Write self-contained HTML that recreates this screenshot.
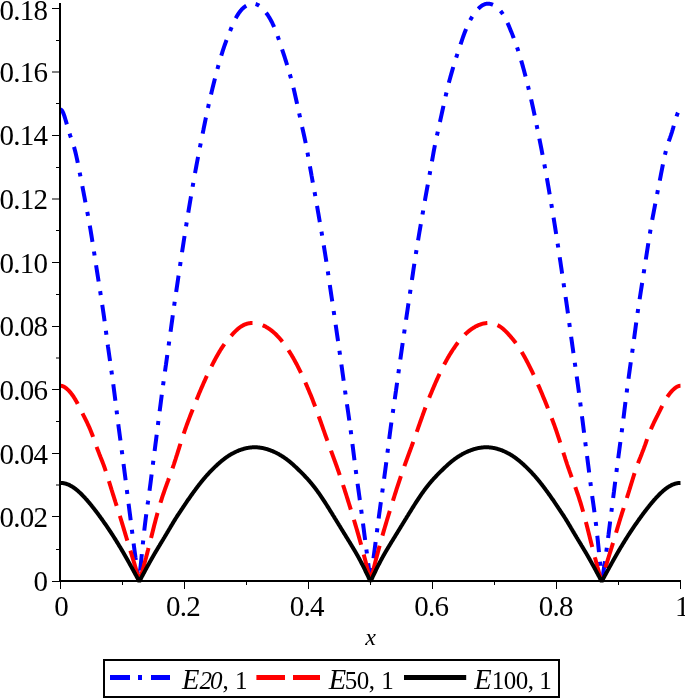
<!DOCTYPE html>
<html><head><meta charset="utf-8"><style>
html,body{margin:0;padding:0;background:#fff;}
body{width:685px;height:698px;overflow:hidden;}
svg{display:block;font-family:"Liberation Serif",serif;}
.lab{font-size:29px;letter-spacing:-0.75px;}
.lg{font-size:25px;letter-spacing:-0.5px;}
</style></head><body>
<svg width="685" height="698" viewBox="0 0 685 698">
<rect x="0" y="0" width="685" height="698" fill="#fff"/>
<path d="M60.50,109.60 61.00,109.72 61.50,110.07 62.00,110.64 62.50,111.44 63.00,112.44 63.50,113.63 64.00,114.97 64.50,116.45 65.00,118.03 65.50,119.70 66.00,121.42 66.50,123.17 67.00,124.93 67.50,126.68 68.00,128.42 68.50,130.12 69.00,131.79 69.50,133.40 70.00,134.94 70.50,136.42 71.00,137.85 71.50,139.27 72.00,140.68 72.50,142.12 73.00,143.62 73.50,145.19 74.00,146.86 74.50,148.64 75.00,150.54 75.50,152.54 76.00,154.65 76.50,156.85 77.00,159.14 77.50,161.52 78.00,163.98 78.50,166.50 79.00,169.07 79.50,171.65 80.00,174.23 80.50,176.79 81.00,179.33 81.50,181.87 82.00,184.42 82.50,186.98 83.00,189.58 83.50,192.19 84.00,194.81 84.50,197.43 85.00,200.04 85.50,202.64 86.00,205.23 86.50,207.81 87.00,210.40 87.50,213.01 88.00,215.66 88.50,218.35 89.00,221.10 89.50,223.92 90.00,226.81 90.50,229.78 91.00,232.82 91.50,235.91 92.00,239.04 92.50,242.19 93.00,245.35 93.50,248.53 94.00,251.74 94.50,254.96 95.00,258.21 95.50,261.47 96.00,264.71 96.50,267.94 97.00,271.15 97.50,274.34 98.00,277.53 98.50,280.71 99.00,283.89 99.50,287.07 100.00,290.27 100.50,293.48 101.00,296.70 101.50,299.96 102.00,303.25 102.50,306.58 103.00,309.96 103.50,313.40 104.00,316.90 104.50,320.49 105.00,324.16 105.50,327.90 106.00,331.69 106.50,335.51 107.00,339.33 107.50,343.06 108.00,346.69 108.50,350.22 109.00,353.71 109.50,357.17 110.00,360.65 110.50,364.18 111.00,367.75 111.50,371.36 112.00,374.99 112.50,378.65 113.00,382.36 113.50,386.11 114.00,389.92 114.50,393.78 115.00,397.71 115.50,401.70 116.00,405.74 116.50,409.81 117.00,413.90 117.50,417.97 118.00,421.99 118.50,425.91 119.00,429.74 119.50,433.52 120.00,437.26 120.50,440.99 121.00,444.73 121.50,448.49 122.00,452.27 122.50,456.07 123.00,459.88 123.50,463.71 124.00,467.55 124.50,471.41 125.00,475.30 125.50,479.23 126.00,483.22 126.50,487.24 127.00,491.26 127.50,495.24 128.00,499.20 128.50,503.13 129.00,507.04 129.50,510.94 130.00,514.85 130.50,518.78 131.00,522.76 131.50,526.78 132.00,530.81 132.50,534.80 133.00,538.75 133.50,542.65 134.00,546.49 134.50,550.27 135.00,553.96 135.50,557.56 136.00,561.04 136.50,564.46 137.00,567.87 137.50,571.31 138.00,574.86 138.50,578.57 138.88,581.50 139.00,580.50 139.50,576.31 140.00,571.85 140.50,567.18 141.00,562.36 141.50,557.42 142.00,552.43 142.50,547.44 143.00,542.50 143.50,537.67 144.00,532.99 144.50,528.52 145.00,524.25 145.50,520.17 146.00,516.26 146.50,512.51 147.00,508.87 147.50,505.30 148.00,501.75 148.50,498.19 149.00,494.56 149.50,490.87 150.00,487.06 150.50,483.17 151.00,479.22 151.50,475.25 152.00,471.28 152.50,467.34 153.00,463.44 153.50,459.59 154.00,455.76 154.50,451.91 155.00,448.02 155.50,444.09 156.00,440.13 156.50,436.16 157.00,432.19 157.50,428.24 158.00,424.29 158.50,420.36 159.00,416.44 159.50,412.52 160.00,408.59 160.50,404.67 161.00,400.76 161.50,396.89 162.00,393.06 162.50,389.30 163.00,385.60 163.50,381.97 164.00,378.40 164.50,374.86 165.00,371.33 165.50,367.80 166.00,364.25 166.50,360.69 167.00,357.12 167.50,353.57 168.00,350.01 168.50,346.46 169.00,342.90 169.50,339.32 170.00,335.73 170.50,332.11 171.00,328.46 171.50,324.79 172.00,321.11 172.50,317.45 173.00,313.81 173.50,310.20 174.00,306.65 174.50,303.16 175.00,299.72 175.50,296.33 176.00,292.96 176.50,289.59 177.00,286.22 177.50,282.84 178.00,279.47 178.50,276.08 179.00,272.70 179.50,269.31 180.00,265.93 180.50,262.55 181.00,259.18 181.50,255.82 182.00,252.50 182.50,249.20 183.00,245.94 183.50,242.70 184.00,239.48 184.50,236.26 185.00,233.05 185.50,229.85 186.00,226.67 186.50,223.52 187.00,220.39 187.50,217.30 188.00,214.23 188.50,211.19 189.00,208.17 189.50,205.17 190.00,202.19 190.50,199.22 191.00,196.26 191.50,193.32 192.00,190.38 192.50,187.46 193.00,184.56 193.50,181.68 194.00,178.84 194.50,176.02 195.00,173.25 195.50,170.51 196.00,167.81 196.50,165.15 197.00,162.50 197.50,159.87 198.00,157.25 198.50,154.64 199.00,152.03 199.50,149.44 200.00,146.88 200.50,144.35 201.00,141.85 201.50,139.37 202.00,136.90 202.50,134.44 203.00,131.96 203.50,129.48 204.00,126.98 204.50,124.49 205.00,122.02 205.50,119.56 206.00,117.13 206.50,114.74 207.00,112.37 207.50,110.04 208.00,107.75 208.50,105.48 209.00,103.25 209.50,101.04 210.00,98.86 210.50,96.70 211.00,94.56 211.50,92.44 212.00,90.35 212.50,88.27 213.00,86.22 213.50,84.18 214.00,82.17 214.50,80.18 215.00,78.21 215.50,76.27 216.00,74.35 216.50,72.45 217.00,70.58 217.50,68.73 218.00,66.91 218.50,65.11 219.00,63.33 219.50,61.58 220.00,59.86 220.50,58.17 221.00,56.51 221.50,54.87 222.00,53.27 222.50,51.70 223.00,50.16 223.50,48.65 224.00,47.16 224.50,45.70 225.00,44.27 225.50,42.86 226.00,41.48 226.50,40.11 227.00,38.78 227.50,37.46 228.00,36.16 228.50,34.88 229.00,33.62 229.50,32.37 230.00,31.14 230.50,29.91 231.00,28.70 231.50,27.50 232.00,26.32 232.50,25.15 233.00,24.00 233.50,22.88 234.00,21.79 234.50,20.72 235.00,19.69 235.50,18.70 236.00,17.75 236.50,16.84 237.00,15.97 237.50,15.14 238.00,14.34 238.50,13.58 239.00,12.86 239.50,12.17 240.00,11.51 240.50,10.89 241.00,10.30 241.50,9.74 242.00,9.21 242.50,8.71 243.00,8.24 243.50,7.79 244.00,7.37 244.50,6.98 245.00,6.61 245.50,6.26 246.00,5.94 246.50,5.64 247.00,5.36 247.50,5.10 248.00,4.86 248.50,4.64 249.00,4.44 249.50,4.27 250.00,4.12 250.50,3.99 251.00,3.88 251.50,3.80 252.00,3.74 252.50,3.70 253.00,3.69 253.50,3.71 254.00,3.75 254.50,3.81 255.00,3.90 255.50,4.02 256.00,4.17 256.50,4.34 257.00,4.54 257.50,4.77 258.00,5.02 258.50,5.31 259.00,5.62 259.50,5.96 260.00,6.33 260.50,6.72 261.00,7.13 261.50,7.58 262.00,8.04 262.50,8.54 263.00,9.05 263.50,9.59 264.00,10.15 264.50,10.74 265.00,11.34 265.50,11.97 266.00,12.62 266.50,13.29 267.00,13.99 267.50,14.71 268.00,15.45 268.50,16.22 269.00,17.02 269.50,17.84 270.00,18.70 270.50,19.59 271.00,20.51 271.50,21.46 272.00,22.45 272.50,23.48 273.00,24.54 273.50,25.65 274.00,26.79 274.50,27.97 275.00,29.19 275.50,30.45 276.00,31.74 276.50,33.06 277.00,34.41 277.50,35.79 278.00,37.19 278.50,38.62 279.00,40.07 279.50,41.54 280.00,43.03 280.50,44.53 281.00,46.03 281.50,47.55 282.00,49.07 282.50,50.58 283.00,52.10 283.50,53.63 284.00,55.16 284.50,56.70 285.00,58.25 285.50,59.81 286.00,61.40 286.50,63.00 287.00,64.62 287.50,66.26 288.00,67.93 288.50,69.63 289.00,71.34 289.50,73.08 290.00,74.84 290.50,76.62 291.00,78.42 291.50,80.26 292.00,82.13 292.50,84.05 293.00,86.02 293.50,88.06 294.00,90.15 294.50,92.31 295.00,94.51 295.50,96.74 296.00,98.99 296.50,101.25 297.00,103.51 297.50,105.77 298.00,108.02 298.50,110.27 299.00,112.53 299.50,114.81 300.00,117.11 300.50,119.43 301.00,121.75 301.50,124.06 302.00,126.34 302.50,128.58 303.00,130.79 303.50,133.00 304.00,135.23 304.50,137.49 305.00,139.81 305.50,142.21 306.00,144.70 306.50,147.30 307.00,149.98 307.50,152.72 308.00,155.50 308.50,158.30 309.00,161.12 309.50,163.95 310.00,166.78 310.50,169.61 311.00,172.42 311.50,175.23 312.00,178.01 312.50,180.78 313.00,183.52 313.50,186.23 314.00,188.94 314.50,191.67 315.00,194.41 315.50,197.20 316.00,200.02 316.50,202.87 317.00,205.75 317.50,208.64 318.00,211.54 318.50,214.45 319.00,217.35 319.50,220.24 320.00,223.12 320.50,225.99 321.00,228.87 321.50,231.78 322.00,234.72 322.50,237.71 323.00,240.74 323.50,243.79 324.00,246.86 324.50,249.95 325.00,253.06 325.50,256.21 326.00,259.41 326.50,262.66 327.00,265.96 327.50,269.32 328.00,272.71 328.50,276.12 329.00,279.55 329.50,282.97 330.00,286.37 330.50,289.74 331.00,293.10 331.50,296.45 332.00,299.80 332.50,303.16 333.00,306.54 333.50,309.93 334.00,313.33 334.50,316.76 335.00,320.19 335.50,323.62 336.00,327.06 336.50,330.49 337.00,333.93 337.50,337.37 338.00,340.82 338.50,344.27 339.00,347.74 339.50,351.21 340.00,354.69 340.50,358.17 341.00,361.68 341.50,365.22 342.00,368.79 342.50,372.40 343.00,376.03 343.50,379.67 344.00,383.30 344.50,386.92 345.00,390.51 345.50,394.06 346.00,397.56 346.50,401.03 347.00,404.46 347.50,407.86 348.00,411.27 348.50,414.69 349.00,418.17 349.50,421.71 350.00,425.33 350.50,429.03 351.00,432.80 351.50,436.62 352.00,440.51 352.50,444.45 353.00,448.46 353.50,452.49 354.00,456.53 354.50,460.51 355.00,464.43 355.50,468.29 356.00,472.08 356.50,475.82 357.00,479.51 357.50,483.16 358.00,486.79 358.50,490.39 359.00,493.99 359.50,497.58 360.00,501.18 360.50,504.79 361.00,508.43 361.50,512.11 362.00,515.86 362.50,519.66 363.00,523.50 363.50,527.37 364.00,531.26 364.50,535.15 365.00,539.03 365.50,542.88 366.00,546.71 366.50,550.50 367.00,554.25 367.50,557.98 368.00,561.74 368.50,565.55 369.00,569.46 369.50,573.43 370.00,577.45 370.50,581.50 371.00,577.45 371.50,573.43 372.00,569.46 372.50,565.55 373.00,561.74 373.50,557.98 374.00,554.25 374.50,550.50 375.00,546.71 375.50,542.88 376.00,539.03 376.50,535.15 377.00,531.26 377.50,527.37 378.00,523.50 378.50,519.66 379.00,515.86 379.50,512.11 380.00,508.43 380.50,504.79 381.00,501.18 381.50,497.58 382.00,493.99 382.50,490.39 383.00,486.79 383.50,483.16 384.00,479.51 384.50,475.82 385.00,472.08 385.50,468.29 386.00,464.43 386.50,460.51 387.00,456.53 387.50,452.49 388.00,448.46 388.50,444.45 389.00,440.51 389.50,436.62 390.00,432.80 390.50,429.03 391.00,425.33 391.50,421.71 392.00,418.17 392.50,414.69 393.00,411.27 393.50,407.86 394.00,404.46 394.50,401.03 395.00,397.56 395.50,394.06 396.00,390.51 396.50,386.92 397.00,383.30 397.50,379.67 398.00,376.03 398.50,372.40 399.00,368.79 399.50,365.22 400.00,361.68 400.50,358.17 401.00,354.69 401.50,351.21 402.00,347.74 402.50,344.27 403.00,340.82 403.50,337.37 404.00,333.93 404.50,330.49 405.00,327.06 405.50,323.62 406.00,320.19 406.50,316.76 407.00,313.33 407.50,309.93 408.00,306.54 408.50,303.16 409.00,299.80 409.50,296.45 410.00,293.10 410.50,289.74 411.00,286.37 411.50,282.97 412.00,279.55 412.50,276.12 413.00,272.71 413.50,269.32 414.00,265.96 414.50,262.66 415.00,259.41 415.50,256.21 416.00,253.06 416.50,249.95 417.00,246.86 417.50,243.79 418.00,240.74 418.50,237.71 419.00,234.72 419.50,231.78 420.00,228.87 420.50,225.99 421.00,223.12 421.50,220.24 422.00,217.35 422.50,214.45 423.00,211.54 423.50,208.64 424.00,205.75 424.50,202.87 425.00,200.02 425.50,197.20 426.00,194.41 426.50,191.67 427.00,188.94 427.50,186.23 428.00,183.52 428.50,180.78 429.00,178.01 429.50,175.23 430.00,172.42 430.50,169.61 431.00,166.78 431.50,163.95 432.00,161.12 432.50,158.30 433.00,155.50 433.50,152.72 434.00,149.98 434.50,147.30 435.00,144.70 435.50,142.21 436.00,139.81 436.50,137.49 437.00,135.23 437.50,133.00 438.00,130.79 438.50,128.58 439.00,126.34 439.50,124.06 440.00,121.75 440.50,119.43 441.00,117.11 441.50,114.81 442.00,112.53 442.50,110.27 443.00,108.02 443.50,105.77 444.00,103.51 444.50,101.25 445.00,98.99 445.50,96.74 446.00,94.51 446.50,92.31 447.00,90.15 447.50,88.06 448.00,86.02 448.50,84.05 449.00,82.13 449.50,80.26 450.00,78.42 450.50,76.62 451.00,74.84 451.50,73.08 452.00,71.34 452.50,69.63 453.00,67.93 453.50,66.26 454.00,64.62 454.50,63.00 455.00,61.40 455.50,59.81 456.00,58.25 456.50,56.70 457.00,55.16 457.50,53.63 458.00,52.10 458.50,50.58 459.00,49.07 459.50,47.55 460.00,46.03 460.50,44.53 461.00,43.03 461.50,41.54 462.00,40.07 462.50,38.62 463.00,37.19 463.50,35.79 464.00,34.41 464.50,33.06 465.00,31.74 465.50,30.45 466.00,29.19 466.50,27.97 467.00,26.79 467.50,25.65 468.00,24.54 468.50,23.48 469.00,22.45 469.50,21.46 470.00,20.51 470.50,19.59 471.00,18.70 471.50,17.84 472.00,17.02 472.50,16.22 473.00,15.45 473.50,14.71 474.00,13.99 474.50,13.29 475.00,12.62 475.50,11.97 476.00,11.34 476.50,10.74 477.00,10.15 477.50,9.59 478.00,9.05 478.50,8.54 479.00,8.04 479.50,7.58 480.00,7.13 480.50,6.72 481.00,6.33 481.50,5.96 482.00,5.62 482.50,5.31 483.00,5.02 483.50,4.77 484.00,4.54 484.50,4.34 485.00,4.17 485.50,4.02 486.00,3.90 486.50,3.81 487.00,3.75 487.50,3.71 488.00,3.69 488.50,3.70 489.00,3.74 489.50,3.80 490.00,3.88 490.50,3.99 491.00,4.12 491.50,4.27 492.00,4.44 492.50,4.64 493.00,4.86 493.50,5.10 494.00,5.36 494.50,5.64 495.00,5.94 495.50,6.26 496.00,6.61 496.50,6.98 497.00,7.37 497.50,7.79 498.00,8.24 498.50,8.71 499.00,9.21 499.50,9.74 500.00,10.30 500.50,10.89 501.00,11.51 501.50,12.17 502.00,12.86 502.50,13.58 503.00,14.34 503.50,15.14 504.00,15.97 504.50,16.84 505.00,17.75 505.50,18.70 506.00,19.69 506.50,20.72 507.00,21.79 507.50,22.88 508.00,24.00 508.50,25.15 509.00,26.32 509.50,27.50 510.00,28.70 510.50,29.91 511.00,31.14 511.50,32.37 512.00,33.62 512.50,34.88 513.00,36.16 513.50,37.46 514.00,38.78 514.50,40.11 515.00,41.48 515.50,42.86 516.00,44.27 516.50,45.70 517.00,47.16 517.50,48.65 518.00,50.16 518.50,51.70 519.00,53.27 519.50,54.87 520.00,56.51 520.50,58.17 521.00,59.86 521.50,61.58 522.00,63.33 522.50,65.11 523.00,66.91 523.50,68.73 524.00,70.58 524.50,72.45 525.00,74.35 525.50,76.27 526.00,78.21 526.50,80.18 527.00,82.17 527.50,84.18 528.00,86.22 528.50,88.27 529.00,90.35 529.50,92.44 530.00,94.56 530.50,96.70 531.00,98.86 531.50,101.04 532.00,103.25 532.50,105.48 533.00,107.75 533.50,110.04 534.00,112.37 534.50,114.74 535.00,117.13 535.50,119.56 536.00,122.02 536.50,124.49 537.00,126.98 537.50,129.48 538.00,131.96 538.50,134.44 539.00,136.90 539.50,139.37 540.00,141.85 540.50,144.35 541.00,146.88 541.50,149.44 542.00,152.03 542.50,154.64 543.00,157.25 543.50,159.87 544.00,162.50 544.50,165.15 545.00,167.81 545.50,170.51 546.00,173.25 546.50,176.02 547.00,178.84 547.50,181.68 548.00,184.56 548.50,187.46 549.00,190.38 549.50,193.32 550.00,196.26 550.50,199.22 551.00,202.19 551.50,205.17 552.00,208.17 552.50,211.19 553.00,214.23 553.50,217.30 554.00,220.39 554.50,223.52 555.00,226.67 555.50,229.85 556.00,233.05 556.50,236.26 557.00,239.48 557.50,242.70 558.00,245.94 558.50,249.20 559.00,252.50 559.50,255.82 560.00,259.18 560.50,262.55 561.00,265.93 561.50,269.31 562.00,272.70 562.50,276.08 563.00,279.47 563.50,282.84 564.00,286.22 564.50,289.59 565.00,292.96 565.50,296.33 566.00,299.72 566.50,303.16 567.00,306.65 567.50,310.20 568.00,313.81 568.50,317.45 569.00,321.11 569.50,324.79 570.00,328.46 570.50,332.11 571.00,335.73 571.50,339.32 572.00,342.90 572.50,346.46 573.00,350.01 573.50,353.57 574.00,357.12 574.50,360.69 575.00,364.25 575.50,367.80 576.00,371.33 576.50,374.86 577.00,378.40 577.50,381.97 578.00,385.60 578.50,389.30 579.00,393.06 579.50,396.89 580.00,400.76 580.50,404.67 581.00,408.59 581.50,412.52 582.00,416.44 582.50,420.36 583.00,424.29 583.50,428.24 584.00,432.19 584.50,436.16 585.00,440.13 585.50,444.09 586.00,448.02 586.50,451.91 587.00,455.76 587.50,459.59 588.00,463.44 588.50,467.34 589.00,471.28 589.50,475.25 590.00,479.22 590.50,483.17 591.00,487.06 591.50,490.87 592.00,494.56 592.50,498.19 593.00,501.75 593.50,505.30 594.00,508.87 594.50,512.51 595.00,516.26 595.50,520.17 596.00,524.25 596.50,528.52 597.00,532.99 597.50,537.67 598.00,542.50 598.50,547.44 599.00,552.43 599.50,557.42 600.00,562.36 600.50,567.18 601.00,571.85 601.50,576.31 602.00,580.50 602.12,581.50 602.50,578.57 603.00,574.86 603.50,571.31 604.00,567.87 604.50,564.46 605.00,561.04 605.50,557.56 606.00,553.96 606.50,550.27 607.00,546.49 607.50,542.65 608.00,538.75 608.50,534.80 609.00,530.81 609.50,526.78 610.00,522.76 610.50,518.78 611.00,514.85 611.50,510.94 612.00,507.04 612.50,503.13 613.00,499.20 613.50,495.24 614.00,491.26 614.50,487.24 615.00,483.22 615.50,479.23 616.00,475.30 616.50,471.41 617.00,467.55 617.50,463.71 618.00,459.88 618.50,456.07 619.00,452.27 619.50,448.49 620.00,444.73 620.50,440.99 621.00,437.26 621.50,433.52 622.00,429.74 622.50,425.91 623.00,421.99 623.50,417.97 624.00,413.90 624.50,409.81 625.00,405.74 625.50,401.70 626.00,397.71 626.50,393.78 627.00,389.92 627.50,386.11 628.00,382.36 628.50,378.65 629.00,374.99 629.50,371.36 630.00,367.75 630.50,364.18 631.00,360.65 631.50,357.17 632.00,353.71 632.50,350.22 633.00,346.69 633.50,343.06 634.00,339.33 634.50,335.51 635.00,331.69 635.50,327.90 636.00,324.16 636.50,320.49 637.00,316.90 637.50,313.40 638.00,309.96 638.50,306.58 639.00,303.25 639.50,299.96 640.00,296.70 640.50,293.48 641.00,290.27 641.50,287.07 642.00,283.89 642.50,280.71 643.00,277.53 643.50,274.34 644.00,271.15 644.50,267.94 645.00,264.71 645.50,261.47 646.00,258.21 646.50,254.96 647.00,251.74 647.50,248.53 648.00,245.35 648.50,242.19 649.00,239.04 649.50,235.91 650.00,232.82 650.50,229.78 651.00,226.81 651.50,223.92 652.00,221.10 652.50,218.35 653.00,215.66 653.50,213.01 654.00,210.40 654.50,207.81 655.00,205.23 655.50,202.64 656.00,200.04 656.50,197.43 657.00,194.81 657.50,192.19 658.00,189.58 658.50,186.98 659.00,184.42 659.50,181.87 660.00,179.33 660.50,176.79 661.00,174.23 661.50,171.65 662.00,169.07 662.50,166.50 663.00,163.98 663.50,161.52 664.00,159.14 664.50,156.85 665.00,154.65 665.50,152.54 666.00,150.54 666.50,148.64 667.00,146.86 667.50,145.19 668.00,143.62 668.50,142.12 669.00,140.68 669.50,139.27 670.00,137.85 670.50,136.42 671.00,134.94 671.50,133.40 672.00,131.79 672.50,130.12 673.00,128.42 673.50,126.68 674.00,124.93 674.50,123.17 675.00,121.42 675.50,119.70 676.00,118.03 676.50,116.45 677.00,114.97 677.50,113.63 678.00,112.44 678.50,111.44 679.00,110.64 679.50,110.07 680.00,109.72 680.50,109.60" fill="none" stroke="#0000ff" stroke-width="4" stroke-linejoin="bevel" stroke-dasharray="16.50 9.75 4.00 9.88 16.50 9.75 4.00 9.88 16.50 9.75 4.00 9.88 16.50 9.75 4.00 9.88 16.50 9.75 4.00 9.88 16.50 9.75 4.00 9.88 16.50 9.75 4.00 9.88 16.50 9.75 4.00 9.88 16.50 9.75 4.00 9.88 16.50 9.75 4.00 9.88 16.50 9.75 4.00 9.88 16.50 9.75 4.00 8.03 1.17 9.88 16.50 9.75 4.00 9.88 16.50 9.75 4.00 9.88 16.50 9.75 4.00 9.88 16.50 9.75 4.00 9.88 16.50 9.75 4.00 9.88 16.50 9.75 4.00 9.88 16.50 9.75 4.00 9.88 16.50 9.75 4.00 9.88 16.50 9.75 4.00 9.88 16.50 9.75 4.00 9.88 16.50 9.75 4.00 9.88 16.50 9.75 4.00 9.88 16.50 9.75 4.00 9.88 16.50 9.75 4.00 9.88 16.50 9.75 4.00 9.88 16.50 9.75 4.00 9.88 16.50 9.75 4.00 9.88 16.50 9.75 4.00 9.88 16.50 9.75 4.00 9.88 16.50 9.75 4.00 9.88 16.50 9.75 4.00 9.88 16.50 9.75 4.00 9.88 16.50 9.75 4.00 9.88 16.50 9.75 4.00 9.88 16.50 9.75 4.00 9.88 16.50 9.75 4.00 9.88 16.50 9.75 4.00 9.88 16.50 9.75 4.00 9.88 16.50 9.75 4.00 9.88 16.50 11.35 4.00 9.88 16.50 9.75 4.00 9.88 16.50 9.75 4.00 9.88 16.50 9.75 4.00 9.88 16.50 9.75 4.00 9.88 16.50 9.75 4.00 9.88 16.50 9.75 4.00 9.88 16.50 9.75 4.00 9.88 16.50 9.75 4.00 9.88 16.50 9.75 4.00 9.88 16.50 9.75 4.00 9.88 16.50 9.75 4.00 9.88 16.50 9.75 4.00 9.88 16.50 9.75 4.00 9.88 16.50 9.75 4.00 9.88 16.50 9.75 4.00 9.88 16.50 9.75 4.00 9.88 16.50 9.75 4.00 9.88 16.50 9.75 4.00 9.88 16.50 9.75 4.00 9.88 16.50 9.75 4.00 9.88 16.50 9.75 4.00 9.88 16.50 9.75 4.00 9.88 16.50 9.75 4.00 9.88 16.50 9.75 4.00 9.88 16.50 9.75 4.00 9.88 16.50 9.75 4.00 9.88 16.50 9.75 4.00 9.88 16.50 9.75 4.00 9.88 16.50 9.75 4.00 9.88 5.92 3.88 16.50 9.75 4.00 9.88 16.50 9.75 4.00 9.88 16.50 9.75 4.00 9.88 16.50 9.75 4.00 9.88 16.50 9.75 4.00 9.88 16.50 9.75 4.00 9.88 16.50 9.75 4.00 9.88 16.50 9.75 4.00 9.88 16.50 9.75 4.00 9.88 16.50 9.75 4.00 9.88 16.50 9.75 4.00 9.88 16.50 9.75 4.00 54.15"/>
<path d="M60.50,385.78 61.00,385.80 61.50,385.87 62.00,385.98 62.50,386.13 63.00,386.32 63.50,386.55 64.00,386.81 64.50,387.10 65.00,387.42 65.50,387.76 66.00,388.13 66.50,388.53 67.00,388.95 67.50,389.39 68.00,389.87 68.50,390.36 69.00,390.88 69.50,391.43 70.00,392.00 70.50,392.60 71.00,393.22 71.50,393.87 72.00,394.54 72.50,395.23 73.00,395.95 73.50,396.69 74.00,397.46 74.50,398.24 75.00,399.06 75.50,399.89 76.00,400.75 76.50,401.63 77.00,402.52 77.50,403.44 78.00,404.38 78.50,405.33 79.00,406.30 79.50,407.28 80.00,408.27 80.50,409.27 81.00,410.27 81.50,411.28 82.00,412.28 82.50,413.29 83.00,414.29 83.50,415.30 84.00,416.30 84.50,417.31 85.00,418.32 85.50,419.34 86.00,420.36 86.50,421.39 87.00,422.44 87.50,423.49 88.00,424.56 88.50,425.65 89.00,426.75 89.50,427.88 90.00,429.03 90.50,430.21 91.00,431.42 91.50,432.67 92.00,433.95 92.50,435.28 93.00,436.64 93.50,438.03 94.00,439.44 94.50,440.87 95.00,442.30 95.50,443.73 96.00,445.14 96.50,446.53 97.00,447.89 97.50,449.23 98.00,450.54 98.50,451.84 99.00,453.12 99.50,454.40 100.00,455.66 100.50,456.93 101.00,458.19 101.50,459.46 102.00,460.74 102.50,462.03 103.00,463.34 103.50,464.67 104.00,466.03 104.50,467.41 105.00,468.83 105.50,470.28 106.00,471.77 106.50,473.31 107.00,474.88 107.50,476.49 108.00,478.11 108.50,479.75 109.00,481.39 109.50,483.02 110.00,484.65 110.50,486.27 111.00,487.89 111.50,489.51 112.00,491.12 112.50,492.73 113.00,494.33 113.50,495.92 114.00,497.51 114.50,499.10 115.00,500.68 115.50,502.26 116.00,503.83 116.50,505.40 117.00,506.96 117.50,508.52 118.00,510.08 118.50,511.64 119.00,513.21 119.50,514.79 120.00,516.38 120.50,517.98 121.00,519.60 121.50,521.24 122.00,522.89 122.50,524.55 123.00,526.22 123.50,527.89 124.00,529.57 124.50,531.25 125.00,532.94 125.50,534.62 126.00,536.30 126.50,537.97 127.00,539.64 127.50,541.30 128.00,542.95 128.50,544.60 129.00,546.24 129.50,547.87 130.00,549.48 130.50,551.08 131.00,552.67 131.50,554.26 132.00,555.86 132.50,557.47 133.00,559.09 133.50,560.73 134.00,562.39 134.50,564.07 135.00,565.77 135.50,567.49 136.00,569.21 136.50,570.95 137.00,572.70 137.50,574.46 138.00,576.23 138.50,578.01 139.00,579.78 139.48,581.50 140.00,579.65 140.50,577.86 141.00,576.07 141.50,574.27 142.00,572.47 142.50,570.66 143.00,568.84 143.50,567.01 144.00,565.17 144.50,563.33 145.00,561.47 145.50,559.59 146.00,557.71 146.50,555.81 147.00,553.89 147.50,551.96 148.00,550.03 148.50,548.07 149.00,546.11 149.50,544.13 150.00,542.15 150.50,540.16 151.00,538.17 151.50,536.18 152.00,534.19 152.50,532.20 153.00,530.22 153.50,528.25 154.00,526.29 154.50,524.34 155.00,522.40 155.50,520.48 156.00,518.58 156.50,516.71 157.00,514.85 157.50,513.02 158.00,511.22 158.50,509.45 159.00,507.71 159.50,506.01 160.00,504.34 160.50,502.71 161.00,501.11 161.50,499.53 162.00,497.98 162.50,496.46 163.00,494.97 163.50,493.49 164.00,492.03 164.50,490.59 165.00,489.17 165.50,487.75 166.00,486.35 166.50,484.96 167.00,483.58 167.50,482.20 168.00,480.83 168.50,479.45 169.00,478.08 169.50,476.70 170.00,475.32 170.50,473.93 171.00,472.54 171.50,471.13 172.00,469.71 172.50,468.28 173.00,466.83 173.50,465.36 174.00,463.87 174.50,462.36 175.00,460.84 175.50,459.30 176.00,457.75 176.50,456.20 177.00,454.63 177.50,453.05 178.00,451.47 178.50,449.89 179.00,448.31 179.50,446.72 180.00,445.14 180.50,443.57 181.00,442.00 181.50,440.44 182.00,438.89 182.50,437.35 183.00,435.83 183.50,434.32 184.00,432.83 184.50,431.36 185.00,429.91 185.50,428.48 186.00,427.07 186.50,425.68 187.00,424.31 187.50,422.96 188.00,421.61 188.50,420.28 189.00,418.96 189.50,417.65 190.00,416.34 190.50,415.04 191.00,413.75 191.50,412.46 192.00,411.18 192.50,409.90 193.00,408.63 193.50,407.36 194.00,406.10 194.50,404.84 195.00,403.59 195.50,402.34 196.00,401.10 196.50,399.86 197.00,398.63 197.50,397.41 198.00,396.20 198.50,394.99 199.00,393.79 199.50,392.59 200.00,391.40 200.50,390.22 201.00,389.05 201.50,387.89 202.00,386.73 202.50,385.58 203.00,384.44 203.50,383.31 204.00,382.18 204.50,381.06 205.00,379.96 205.50,378.86 206.00,377.77 206.50,376.68 207.00,375.61 207.50,374.55 208.00,373.49 208.50,372.44 209.00,371.40 209.50,370.37 210.00,369.35 210.50,368.33 211.00,367.33 211.50,366.33 212.00,365.34 212.50,364.35 213.00,363.38 213.50,362.41 214.00,361.46 214.50,360.51 215.00,359.57 215.50,358.64 216.00,357.72 216.50,356.82 217.00,355.92 217.50,355.03 218.00,354.16 218.50,353.30 219.00,352.45 219.50,351.61 220.00,350.79 220.50,349.97 221.00,349.17 221.50,348.39 222.00,347.62 222.50,346.86 223.00,346.12 223.50,345.39 224.00,344.68 224.50,343.98 225.00,343.30 225.50,342.63 226.00,341.97 226.50,341.33 227.00,340.69 227.50,340.07 228.00,339.46 228.50,338.85 229.00,338.26 229.50,337.67 230.00,337.09 230.50,336.51 231.00,335.95 231.50,335.38 232.00,334.82 232.50,334.27 233.00,333.73 233.50,333.19 234.00,332.66 234.50,332.14 235.00,331.63 235.50,331.13 236.00,330.65 236.50,330.17 237.00,329.71 237.50,329.26 238.00,328.83 238.50,328.41 239.00,328.00 239.50,327.62 240.00,327.25 240.50,326.89 241.00,326.56 241.50,326.24 242.00,325.93 242.50,325.65 243.00,325.37 243.50,325.12 244.00,324.88 244.50,324.65 245.00,324.44 245.50,324.25 246.00,324.07 246.50,323.91 247.00,323.76 247.50,323.62 248.00,323.50 248.50,323.39 249.00,323.30 249.50,323.22 250.00,323.15 250.50,323.10 251.00,323.05 251.50,323.03 252.00,323.01 252.50,323.00 253.00,323.01 253.50,323.03 254.00,323.06 254.50,323.10 255.00,323.15 255.50,323.21 256.00,323.28 256.50,323.37 257.00,323.46 257.50,323.56 258.00,323.68 258.50,323.80 259.00,323.94 259.50,324.08 260.00,324.24 260.50,324.41 261.00,324.58 261.50,324.77 262.00,324.96 262.50,325.17 263.00,325.38 263.50,325.60 264.00,325.84 264.50,326.08 265.00,326.34 265.50,326.60 266.00,326.87 266.50,327.16 267.00,327.45 267.50,327.75 268.00,328.07 268.50,328.39 269.00,328.73 269.50,329.07 270.00,329.43 270.50,329.79 271.00,330.17 271.50,330.56 272.00,330.95 272.50,331.36 273.00,331.78 273.50,332.21 274.00,332.65 274.50,333.10 275.00,333.56 275.50,334.04 276.00,334.52 276.50,335.02 277.00,335.52 277.50,336.04 278.00,336.57 278.50,337.11 279.00,337.66 279.50,338.22 280.00,338.80 280.50,339.38 281.00,339.98 281.50,340.59 282.00,341.20 282.50,341.84 283.00,342.48 283.50,343.13 284.00,343.80 284.50,344.48 285.00,345.16 285.50,345.86 286.00,346.57 286.50,347.29 287.00,348.02 287.50,348.76 288.00,349.51 288.50,350.27 289.00,351.04 289.50,351.83 290.00,352.62 290.50,353.42 291.00,354.24 291.50,355.07 292.00,355.90 292.50,356.75 293.00,357.61 293.50,358.49 294.00,359.37 294.50,360.26 295.00,361.17 295.50,362.09 296.00,363.01 296.50,363.95 297.00,364.91 297.50,365.87 298.00,366.84 298.50,367.83 299.00,368.83 299.50,369.84 300.00,370.86 300.50,371.89 301.00,372.94 301.50,374.00 302.00,375.07 302.50,376.15 303.00,377.23 303.50,378.33 304.00,379.44 304.50,380.56 305.00,381.68 305.50,382.82 306.00,383.96 306.50,385.10 307.00,386.26 307.50,387.43 308.00,388.60 308.50,389.78 309.00,390.98 309.50,392.18 310.00,393.39 310.50,394.61 311.00,395.84 311.50,397.09 312.00,398.34 312.50,399.60 313.00,400.88 313.50,402.17 314.00,403.46 314.50,404.77 315.00,406.10 315.50,407.43 316.00,408.78 316.50,410.14 317.00,411.50 317.50,412.88 318.00,414.26 318.50,415.66 319.00,417.05 319.50,418.46 320.00,419.86 320.50,421.28 321.00,422.69 321.50,424.11 322.00,425.53 322.50,426.95 323.00,428.37 323.50,429.79 324.00,431.21 324.50,432.63 325.00,434.05 325.50,435.46 326.00,436.87 326.50,438.28 327.00,439.68 327.50,441.07 328.00,442.46 328.50,443.84 329.00,445.22 329.50,446.60 330.00,447.97 330.50,449.33 331.00,450.70 331.50,452.06 332.00,453.42 332.50,454.78 333.00,456.14 333.50,457.50 334.00,458.87 334.50,460.23 335.00,461.61 335.50,462.99 336.00,464.37 336.50,465.76 337.00,467.17 337.50,468.58 338.00,470.00 338.50,471.44 339.00,472.88 339.50,474.34 340.00,475.81 340.50,477.29 341.00,478.78 341.50,480.29 342.00,481.80 342.50,483.32 343.00,484.85 343.50,486.39 344.00,487.93 344.50,489.48 345.00,491.05 345.50,492.61 346.00,494.19 346.50,495.77 347.00,497.35 347.50,498.94 348.00,500.54 348.50,502.14 349.00,503.74 349.50,505.35 350.00,506.96 350.50,508.58 351.00,510.20 351.50,511.82 352.00,513.45 352.50,515.09 353.00,516.73 353.50,518.38 354.00,520.04 354.50,521.71 355.00,523.38 355.50,525.06 356.00,526.75 356.50,528.46 357.00,530.17 357.50,531.90 358.00,533.63 358.50,535.38 359.00,537.14 359.50,538.92 360.00,540.70 360.50,542.51 361.00,544.32 361.50,546.15 362.00,548.00 362.50,549.86 363.00,551.74 363.50,553.62 364.00,555.53 364.50,557.44 365.00,559.37 365.50,561.32 366.00,563.28 366.50,565.25 367.00,567.24 367.50,569.24 368.00,571.25 368.50,573.27 369.00,575.31 369.50,577.37 370.00,579.43 370.50,581.50 371.00,579.43 371.50,577.37 372.00,575.31 372.50,573.27 373.00,571.25 373.50,569.24 374.00,567.24 374.50,565.25 375.00,563.28 375.50,561.32 376.00,559.37 376.50,557.44 377.00,555.53 377.50,553.62 378.00,551.74 378.50,549.86 379.00,548.00 379.50,546.15 380.00,544.32 380.50,542.51 381.00,540.70 381.50,538.92 382.00,537.14 382.50,535.38 383.00,533.63 383.50,531.90 384.00,530.17 384.50,528.46 385.00,526.75 385.50,525.06 386.00,523.38 386.50,521.71 387.00,520.04 387.50,518.38 388.00,516.73 388.50,515.09 389.00,513.45 389.50,511.82 390.00,510.20 390.50,508.58 391.00,506.96 391.50,505.35 392.00,503.74 392.50,502.14 393.00,500.54 393.50,498.94 394.00,497.35 394.50,495.77 395.00,494.19 395.50,492.61 396.00,491.05 396.50,489.48 397.00,487.93 397.50,486.39 398.00,484.85 398.50,483.32 399.00,481.80 399.50,480.29 400.00,478.78 400.50,477.29 401.00,475.81 401.50,474.34 402.00,472.88 402.50,471.44 403.00,470.00 403.50,468.58 404.00,467.17 404.50,465.76 405.00,464.37 405.50,462.99 406.00,461.61 406.50,460.23 407.00,458.87 407.50,457.50 408.00,456.14 408.50,454.78 409.00,453.42 409.50,452.06 410.00,450.70 410.50,449.33 411.00,447.97 411.50,446.60 412.00,445.22 412.50,443.84 413.00,442.46 413.50,441.07 414.00,439.68 414.50,438.28 415.00,436.87 415.50,435.46 416.00,434.05 416.50,432.63 417.00,431.21 417.50,429.79 418.00,428.37 418.50,426.95 419.00,425.53 419.50,424.11 420.00,422.69 420.50,421.28 421.00,419.86 421.50,418.46 422.00,417.05 422.50,415.66 423.00,414.26 423.50,412.88 424.00,411.50 424.50,410.14 425.00,408.78 425.50,407.43 426.00,406.10 426.50,404.77 427.00,403.46 427.50,402.17 428.00,400.88 428.50,399.60 429.00,398.34 429.50,397.09 430.00,395.84 430.50,394.61 431.00,393.39 431.50,392.18 432.00,390.98 432.50,389.78 433.00,388.60 433.50,387.43 434.00,386.26 434.50,385.10 435.00,383.96 435.50,382.82 436.00,381.68 436.50,380.56 437.00,379.44 437.50,378.33 438.00,377.23 438.50,376.15 439.00,375.07 439.50,374.00 440.00,372.94 440.50,371.89 441.00,370.86 441.50,369.84 442.00,368.83 442.50,367.83 443.00,366.84 443.50,365.87 444.00,364.91 444.50,363.95 445.00,363.01 445.50,362.09 446.00,361.17 446.50,360.26 447.00,359.37 447.50,358.49 448.00,357.61 448.50,356.75 449.00,355.90 449.50,355.07 450.00,354.24 450.50,353.42 451.00,352.62 451.50,351.83 452.00,351.04 452.50,350.27 453.00,349.51 453.50,348.76 454.00,348.02 454.50,347.29 455.00,346.57 455.50,345.86 456.00,345.16 456.50,344.48 457.00,343.80 457.50,343.13 458.00,342.48 458.50,341.84 459.00,341.20 459.50,340.59 460.00,339.98 460.50,339.38 461.00,338.80 461.50,338.22 462.00,337.66 462.50,337.11 463.00,336.57 463.50,336.04 464.00,335.52 464.50,335.02 465.00,334.52 465.50,334.04 466.00,333.56 466.50,333.10 467.00,332.65 467.50,332.21 468.00,331.78 468.50,331.36 469.00,330.95 469.50,330.56 470.00,330.17 470.50,329.79 471.00,329.43 471.50,329.07 472.00,328.73 472.50,328.39 473.00,328.07 473.50,327.75 474.00,327.45 474.50,327.16 475.00,326.87 475.50,326.60 476.00,326.34 476.50,326.08 477.00,325.84 477.50,325.60 478.00,325.38 478.50,325.17 479.00,324.96 479.50,324.77 480.00,324.58 480.50,324.41 481.00,324.24 481.50,324.08 482.00,323.94 482.50,323.80 483.00,323.68 483.50,323.56 484.00,323.46 484.50,323.37 485.00,323.28 485.50,323.21 486.00,323.15 486.50,323.10 487.00,323.06 487.50,323.03 488.00,323.01 488.50,323.00 489.00,323.01 489.50,323.03 490.00,323.05 490.50,323.10 491.00,323.15 491.50,323.22 492.00,323.30 492.50,323.39 493.00,323.50 493.50,323.62 494.00,323.76 494.50,323.91 495.00,324.07 495.50,324.25 496.00,324.44 496.50,324.65 497.00,324.88 497.50,325.12 498.00,325.37 498.50,325.65 499.00,325.93 499.50,326.24 500.00,326.56 500.50,326.89 501.00,327.25 501.50,327.62 502.00,328.00 502.50,328.41 503.00,328.83 503.50,329.26 504.00,329.71 504.50,330.17 505.00,330.65 505.50,331.13 506.00,331.63 506.50,332.14 507.00,332.66 507.50,333.19 508.00,333.73 508.50,334.27 509.00,334.82 509.50,335.38 510.00,335.95 510.50,336.51 511.00,337.09 511.50,337.67 512.00,338.26 512.50,338.85 513.00,339.46 513.50,340.07 514.00,340.69 514.50,341.33 515.00,341.97 515.50,342.63 516.00,343.30 516.50,343.98 517.00,344.68 517.50,345.39 518.00,346.12 518.50,346.86 519.00,347.62 519.50,348.39 520.00,349.17 520.50,349.97 521.00,350.79 521.50,351.61 522.00,352.45 522.50,353.30 523.00,354.16 523.50,355.03 524.00,355.92 524.50,356.82 525.00,357.72 525.50,358.64 526.00,359.57 526.50,360.51 527.00,361.46 527.50,362.41 528.00,363.38 528.50,364.35 529.00,365.34 529.50,366.33 530.00,367.33 530.50,368.33 531.00,369.35 531.50,370.37 532.00,371.40 532.50,372.44 533.00,373.49 533.50,374.55 534.00,375.61 534.50,376.68 535.00,377.77 535.50,378.86 536.00,379.96 536.50,381.06 537.00,382.18 537.50,383.31 538.00,384.44 538.50,385.58 539.00,386.73 539.50,387.89 540.00,389.05 540.50,390.22 541.00,391.40 541.50,392.59 542.00,393.79 542.50,394.99 543.00,396.20 543.50,397.41 544.00,398.63 544.50,399.86 545.00,401.10 545.50,402.34 546.00,403.59 546.50,404.84 547.00,406.10 547.50,407.36 548.00,408.63 548.50,409.90 549.00,411.18 549.50,412.46 550.00,413.75 550.50,415.04 551.00,416.34 551.50,417.65 552.00,418.96 552.50,420.28 553.00,421.61 553.50,422.96 554.00,424.31 554.50,425.68 555.00,427.07 555.50,428.48 556.00,429.91 556.50,431.36 557.00,432.83 557.50,434.32 558.00,435.83 558.50,437.35 559.00,438.89 559.50,440.44 560.00,442.00 560.50,443.57 561.00,445.14 561.50,446.72 562.00,448.31 562.50,449.89 563.00,451.47 563.50,453.05 564.00,454.63 564.50,456.20 565.00,457.75 565.50,459.30 566.00,460.84 566.50,462.36 567.00,463.87 567.50,465.36 568.00,466.83 568.50,468.28 569.00,469.71 569.50,471.13 570.00,472.54 570.50,473.93 571.00,475.32 571.50,476.70 572.00,478.08 572.50,479.45 573.00,480.83 573.50,482.20 574.00,483.58 574.50,484.96 575.00,486.35 575.50,487.75 576.00,489.17 576.50,490.59 577.00,492.03 577.50,493.49 578.00,494.97 578.50,496.46 579.00,497.98 579.50,499.53 580.00,501.11 580.50,502.71 581.00,504.34 581.50,506.01 582.00,507.71 582.50,509.45 583.00,511.22 583.50,513.02 584.00,514.85 584.50,516.71 585.00,518.58 585.50,520.48 586.00,522.40 586.50,524.34 587.00,526.29 587.50,528.25 588.00,530.22 588.50,532.20 589.00,534.19 589.50,536.18 590.00,538.17 590.50,540.16 591.00,542.15 591.50,544.13 592.00,546.11 592.50,548.07 593.00,550.03 593.50,551.96 594.00,553.89 594.50,555.81 595.00,557.71 595.50,559.59 596.00,561.47 596.50,563.33 597.00,565.17 597.50,567.01 598.00,568.84 598.50,570.66 599.00,572.47 599.50,574.27 600.00,576.07 600.50,577.86 601.00,579.65 601.52,581.50 602.00,579.78 602.50,578.01 603.00,576.23 603.50,574.46 604.00,572.70 604.50,570.95 605.00,569.21 605.50,567.49 606.00,565.77 606.50,564.07 607.00,562.39 607.50,560.73 608.00,559.09 608.50,557.47 609.00,555.86 609.50,554.26 610.00,552.67 610.50,551.08 611.00,549.48 611.50,547.87 612.00,546.24 612.50,544.60 613.00,542.95 613.50,541.30 614.00,539.64 614.50,537.97 615.00,536.30 615.50,534.62 616.00,532.94 616.50,531.25 617.00,529.57 617.50,527.89 618.00,526.22 618.50,524.55 619.00,522.89 619.50,521.24 620.00,519.60 620.50,517.98 621.00,516.38 621.50,514.79 622.00,513.21 622.50,511.64 623.00,510.08 623.50,508.52 624.00,506.96 624.50,505.40 625.00,503.83 625.50,502.26 626.00,500.68 626.50,499.10 627.00,497.51 627.50,495.92 628.00,494.33 628.50,492.73 629.00,491.12 629.50,489.51 630.00,487.89 630.50,486.27 631.00,484.65 631.50,483.02 632.00,481.39 632.50,479.75 633.00,478.11 633.50,476.49 634.00,474.88 634.50,473.31 635.00,471.77 635.50,470.28 636.00,468.83 636.50,467.41 637.00,466.03 637.50,464.67 638.00,463.34 638.50,462.03 639.00,460.74 639.50,459.46 640.00,458.19 640.50,456.93 641.00,455.66 641.50,454.40 642.00,453.12 642.50,451.84 643.00,450.54 643.50,449.23 644.00,447.89 644.50,446.53 645.00,445.14 645.50,443.73 646.00,442.30 646.50,440.87 647.00,439.44 647.50,438.03 648.00,436.64 648.50,435.28 649.00,433.95 649.50,432.67 650.00,431.42 650.50,430.21 651.00,429.03 651.50,427.88 652.00,426.75 652.50,425.65 653.00,424.56 653.50,423.49 654.00,422.44 654.50,421.39 655.00,420.36 655.50,419.34 656.00,418.32 656.50,417.31 657.00,416.30 657.50,415.30 658.00,414.29 658.50,413.29 659.00,412.28 659.50,411.28 660.00,410.27 660.50,409.27 661.00,408.27 661.50,407.28 662.00,406.30 662.50,405.33 663.00,404.38 663.50,403.44 664.00,402.52 664.50,401.63 665.00,400.75 665.50,399.89 666.00,399.06 666.50,398.24 667.00,397.46 667.50,396.69 668.00,395.95 668.50,395.23 669.00,394.54 669.50,393.87 670.00,393.22 670.50,392.60 671.00,392.00 671.50,391.43 672.00,390.88 672.50,390.36 673.00,389.87 673.50,389.39 674.00,388.95 674.50,388.53 675.00,388.13 675.50,387.76 676.00,387.42 676.50,387.10 677.00,386.81 677.50,386.55 678.00,386.32 678.50,386.13 679.00,385.98 679.50,385.87 680.00,385.80 680.50,385.78" fill="none" stroke="#ff0000" stroke-width="4" stroke-linejoin="bevel" stroke-dasharray="25.90 10.52 25.90 10.52 25.90 10.52 25.90 10.52 25.90 10.52 66.82 10.38 25.90 10.52 25.90 10.52 25.90 10.52 25.90 10.52 25.90 10.52 25.90 10.52 25.90 10.52 25.90 10.52 25.90 10.52 25.90 10.52 25.90 10.52 25.90 10.52 25.90 10.52 25.90 10.23 64.69 10.52 25.90 10.52 25.90 10.52 25.90 10.52 25.90 10.52 25.90 10.52 25.90 10.52 25.90 10.52 25.90 10.52 25.90 10.52 25.90 10.52 25.90 10.52 25.90 10.52 25.90 10.52 25.90 10.52 29.10 10.52 25.90 10.52 25.90 10.52 25.90 10.52 25.90 10.52 25.90 10.52 17.68 50.00"/>
<path d="M60.50,482.91 61.00,482.92 61.50,482.94 62.00,482.97 62.50,483.02 63.00,483.09 63.50,483.16 64.00,483.25 64.50,483.36 65.00,483.48 65.50,483.61 66.00,483.76 66.50,483.92 67.00,484.09 67.50,484.27 68.00,484.47 68.50,484.69 69.00,484.91 69.50,485.15 70.00,485.40 70.50,485.67 71.00,485.94 71.50,486.23 72.00,486.53 72.50,486.84 73.00,487.17 73.50,487.50 74.00,487.85 74.50,488.21 75.00,488.57 75.50,488.95 76.00,489.34 76.50,489.74 77.00,490.15 77.50,490.58 78.00,491.01 78.50,491.45 79.00,491.89 79.50,492.35 80.00,492.82 80.50,493.30 81.00,493.78 81.50,494.27 82.00,494.77 82.50,495.28 83.00,495.80 83.50,496.32 84.00,496.85 84.50,497.39 85.00,497.93 85.50,498.49 86.00,499.04 86.50,499.61 87.00,500.18 87.50,500.76 88.00,501.34 88.50,501.93 89.00,502.52 89.50,503.12 90.00,503.72 90.50,504.33 91.00,504.94 91.50,505.56 92.00,506.19 92.50,506.81 93.00,507.45 93.50,508.08 94.00,508.72 94.50,509.37 95.00,510.02 95.50,510.67 96.00,511.33 96.50,511.99 97.00,512.65 97.50,513.32 98.00,513.99 98.50,514.66 99.00,515.34 99.50,516.02 100.00,516.71 100.50,517.40 101.00,518.09 101.50,518.79 102.00,519.48 102.50,520.19 103.00,520.89 103.50,521.60 104.00,522.31 104.50,523.03 105.00,523.75 105.50,524.47 106.00,525.20 106.50,525.93 107.00,526.66 107.50,527.40 108.00,528.14 108.50,528.88 109.00,529.63 109.50,530.38 110.00,531.13 110.50,531.89 111.00,532.65 111.50,533.42 112.00,534.18 112.50,534.96 113.00,535.73 113.50,536.51 114.00,537.30 114.50,538.09 115.00,538.88 115.50,539.67 116.00,540.47 116.50,541.28 117.00,542.09 117.50,542.90 118.00,543.71 118.50,544.53 119.00,545.36 119.50,546.18 120.00,547.01 120.50,547.85 121.00,548.69 121.50,549.53 122.00,550.38 122.50,551.23 123.00,552.08 123.50,552.94 124.00,553.80 124.50,554.67 125.00,555.54 125.50,556.41 126.00,557.29 126.50,558.17 127.00,559.05 127.50,559.93 128.00,560.82 128.50,561.72 129.00,562.61 129.50,563.51 130.00,564.41 130.50,565.31 131.00,566.22 131.50,567.12 132.00,568.03 132.50,568.95 133.00,569.86 133.50,570.78 134.00,571.69 134.50,572.61 135.00,573.53 135.50,574.46 136.00,575.38 136.50,576.30 137.00,577.23 137.50,578.15 138.00,579.08 138.50,580.01 139.00,580.93 139.31,581.50 139.50,581.13 140.00,580.19 140.50,579.25 141.00,578.31 141.50,577.37 142.00,576.43 142.50,575.49 143.00,574.55 143.50,573.62 144.00,572.69 144.50,571.76 145.00,570.83 145.50,569.90 146.00,568.98 146.50,568.06 147.00,567.14 147.50,566.23 148.00,565.32 148.50,564.41 149.00,563.51 149.50,562.60 150.00,561.71 150.50,560.81 151.00,559.93 151.50,559.04 152.00,558.16 152.50,557.28 153.00,556.41 153.50,555.55 154.00,554.69 154.50,553.83 155.00,552.98 155.50,552.13 156.00,551.29 156.50,550.45 157.00,549.62 157.50,548.78 158.00,547.95 158.50,547.12 159.00,546.29 159.50,545.47 160.00,544.64 160.50,543.81 161.00,542.98 161.50,542.15 162.00,541.33 162.50,540.50 163.00,539.67 163.50,538.83 164.00,538.00 164.50,537.17 165.00,536.33 165.50,535.49 166.00,534.65 166.50,533.81 167.00,532.97 167.50,532.12 168.00,531.28 168.50,530.43 169.00,529.59 169.50,528.74 170.00,527.90 170.50,527.05 171.00,526.21 171.50,525.37 172.00,524.54 172.50,523.70 173.00,522.87 173.50,522.05 174.00,521.23 174.50,520.41 175.00,519.60 175.50,518.79 176.00,517.99 176.50,517.20 177.00,516.41 177.50,515.63 178.00,514.85 178.50,514.08 179.00,513.32 179.50,512.55 180.00,511.80 180.50,511.04 181.00,510.29 181.50,509.54 182.00,508.79 182.50,508.05 183.00,507.30 183.50,506.56 184.00,505.82 184.50,505.09 185.00,504.35 185.50,503.62 186.00,502.88 186.50,502.16 187.00,501.43 187.50,500.70 188.00,499.98 188.50,499.26 189.00,498.54 189.50,497.82 190.00,497.10 190.50,496.39 191.00,495.68 191.50,494.97 192.00,494.27 192.50,493.57 193.00,492.87 193.50,492.18 194.00,491.49 194.50,490.80 195.00,490.11 195.50,489.44 196.00,488.76 196.50,488.09 197.00,487.42 197.50,486.76 198.00,486.10 198.50,485.45 199.00,484.80 199.50,484.15 200.00,483.52 200.50,482.88 201.00,482.26 201.50,481.63 202.00,481.02 202.50,480.41 203.00,479.80 203.50,479.20 204.00,478.61 204.50,478.02 205.00,477.44 205.50,476.86 206.00,476.29 206.50,475.73 207.00,475.17 207.50,474.61 208.00,474.07 208.50,473.53 209.00,472.99 209.50,472.46 210.00,471.93 210.50,471.41 211.00,470.89 211.50,470.38 212.00,469.87 212.50,469.37 213.00,468.87 213.50,468.37 214.00,467.88 214.50,467.39 215.00,466.91 215.50,466.43 216.00,465.95 216.50,465.49 217.00,465.02 217.50,464.56 218.00,464.11 218.50,463.66 219.00,463.21 219.50,462.77 220.00,462.34 220.50,461.91 221.00,461.49 221.50,461.07 222.00,460.66 222.50,460.25 223.00,459.85 223.50,459.46 224.00,459.07 224.50,458.69 225.00,458.32 225.50,457.95 226.00,457.58 226.50,457.23 227.00,456.88 227.50,456.54 228.00,456.20 228.50,455.87 229.00,455.55 229.50,455.23 230.00,454.92 230.50,454.62 231.00,454.32 231.50,454.03 232.00,453.75 232.50,453.47 233.00,453.20 233.50,452.93 234.00,452.68 234.50,452.42 235.00,452.18 235.50,451.94 236.00,451.71 236.50,451.48 237.00,451.26 237.50,451.04 238.00,450.83 238.50,450.63 239.00,450.43 239.50,450.24 240.00,450.05 240.50,449.87 241.00,449.70 241.50,449.53 242.00,449.37 242.50,449.21 243.00,449.06 243.50,448.91 244.00,448.77 244.50,448.64 245.00,448.51 245.50,448.39 246.00,448.27 246.50,448.16 247.00,448.06 247.50,447.96 248.00,447.87 248.50,447.78 249.00,447.71 249.50,447.63 250.00,447.57 250.50,447.51 251.00,447.46 251.50,447.41 252.00,447.37 252.50,447.34 253.00,447.31 253.50,447.29 254.00,447.28 254.50,447.27 255.00,447.27 255.50,447.28 256.00,447.29 256.50,447.31 257.00,447.34 257.50,447.37 258.00,447.42 258.50,447.46 259.00,447.52 259.50,447.58 260.00,447.64 260.50,447.71 261.00,447.79 261.50,447.88 262.00,447.97 262.50,448.06 263.00,448.17 263.50,448.28 264.00,448.39 264.50,448.51 265.00,448.63 265.50,448.77 266.00,448.90 266.50,449.04 267.00,449.19 267.50,449.35 268.00,449.50 268.50,449.67 269.00,449.84 269.50,450.01 270.00,450.19 270.50,450.38 271.00,450.57 271.50,450.77 272.00,450.97 272.50,451.17 273.00,451.38 273.50,451.60 274.00,451.82 274.50,452.05 275.00,452.29 275.50,452.52 276.00,452.77 276.50,453.02 277.00,453.27 277.50,453.54 278.00,453.80 278.50,454.07 279.00,454.35 279.50,454.64 280.00,454.92 280.50,455.22 281.00,455.52 281.50,455.83 282.00,456.14 282.50,456.46 283.00,456.78 283.50,457.11 284.00,457.45 284.50,457.79 285.00,458.14 285.50,458.50 286.00,458.86 286.50,459.23 287.00,459.60 287.50,459.98 288.00,460.37 288.50,460.76 289.00,461.16 289.50,461.56 290.00,461.97 290.50,462.39 291.00,462.81 291.50,463.24 292.00,463.67 292.50,464.11 293.00,464.56 293.50,465.01 294.00,465.46 294.50,465.92 295.00,466.38 295.50,466.85 296.00,467.32 296.50,467.79 297.00,468.27 297.50,468.75 298.00,469.23 298.50,469.72 299.00,470.21 299.50,470.70 300.00,471.19 300.50,471.68 301.00,472.18 301.50,472.68 302.00,473.18 302.50,473.68 303.00,474.19 303.50,474.70 304.00,475.22 304.50,475.73 305.00,476.26 305.50,476.78 306.00,477.31 306.50,477.85 307.00,478.39 307.50,478.94 308.00,479.49 308.50,480.05 309.00,480.62 309.50,481.19 310.00,481.77 310.50,482.36 311.00,482.95 311.50,483.56 312.00,484.17 312.50,484.78 313.00,485.41 313.50,486.04 314.00,486.68 314.50,487.33 315.00,487.98 315.50,488.64 316.00,489.30 316.50,489.98 317.00,490.66 317.50,491.35 318.00,492.04 318.50,492.74 319.00,493.45 319.50,494.16 320.00,494.88 320.50,495.61 321.00,496.34 321.50,497.08 322.00,497.82 322.50,498.57 323.00,499.33 323.50,500.09 324.00,500.85 324.50,501.62 325.00,502.40 325.50,503.18 326.00,503.96 326.50,504.74 327.00,505.53 327.50,506.32 328.00,507.12 328.50,507.92 329.00,508.72 329.50,509.52 330.00,510.33 330.50,511.13 331.00,511.94 331.50,512.75 332.00,513.56 332.50,514.37 333.00,515.19 333.50,516.00 334.00,516.81 334.50,517.62 335.00,518.44 335.50,519.25 336.00,520.06 336.50,520.88 337.00,521.69 337.50,522.50 338.00,523.32 338.50,524.13 339.00,524.95 339.50,525.76 340.00,526.57 340.50,527.39 341.00,528.20 341.50,529.02 342.00,529.83 342.50,530.65 343.00,531.46 343.50,532.28 344.00,533.09 344.50,533.91 345.00,534.72 345.50,535.54 346.00,536.36 346.50,537.17 347.00,537.99 347.50,538.81 348.00,539.63 348.50,540.44 349.00,541.26 349.50,542.08 350.00,542.90 350.50,543.72 351.00,544.54 351.50,545.36 352.00,546.19 352.50,547.02 353.00,547.85 353.50,548.68 354.00,549.52 354.50,550.36 355.00,551.21 355.50,552.07 356.00,552.93 356.50,553.80 357.00,554.68 357.50,555.57 358.00,556.46 358.50,557.37 359.00,558.28 359.50,559.21 360.00,560.14 360.50,561.09 361.00,562.04 361.50,563.00 362.00,563.98 362.50,564.96 363.00,565.95 363.50,566.94 364.00,567.95 364.50,568.96 365.00,569.98 365.50,571.01 366.00,572.04 366.50,573.08 367.00,574.12 367.50,575.16 368.00,576.21 368.50,577.27 369.00,578.32 369.50,579.38 370.00,580.44 370.50,581.50 371.00,580.44 371.50,579.38 372.00,578.32 372.50,577.27 373.00,576.21 373.50,575.16 374.00,574.12 374.50,573.08 375.00,572.04 375.50,571.01 376.00,569.98 376.50,568.96 377.00,567.95 377.50,566.94 378.00,565.95 378.50,564.96 379.00,563.98 379.50,563.00 380.00,562.04 380.50,561.09 381.00,560.14 381.50,559.21 382.00,558.28 382.50,557.37 383.00,556.46 383.50,555.57 384.00,554.68 384.50,553.80 385.00,552.93 385.50,552.07 386.00,551.21 386.50,550.36 387.00,549.52 387.50,548.68 388.00,547.85 388.50,547.02 389.00,546.19 389.50,545.36 390.00,544.54 390.50,543.72 391.00,542.90 391.50,542.08 392.00,541.26 392.50,540.44 393.00,539.63 393.50,538.81 394.00,537.99 394.50,537.17 395.00,536.36 395.50,535.54 396.00,534.72 396.50,533.91 397.00,533.09 397.50,532.28 398.00,531.46 398.50,530.65 399.00,529.83 399.50,529.02 400.00,528.20 400.50,527.39 401.00,526.57 401.50,525.76 402.00,524.95 402.50,524.13 403.00,523.32 403.50,522.50 404.00,521.69 404.50,520.88 405.00,520.06 405.50,519.25 406.00,518.44 406.50,517.62 407.00,516.81 407.50,516.00 408.00,515.19 408.50,514.37 409.00,513.56 409.50,512.75 410.00,511.94 410.50,511.13 411.00,510.33 411.50,509.52 412.00,508.72 412.50,507.92 413.00,507.12 413.50,506.32 414.00,505.53 414.50,504.74 415.00,503.96 415.50,503.18 416.00,502.40 416.50,501.62 417.00,500.85 417.50,500.09 418.00,499.33 418.50,498.57 419.00,497.82 419.50,497.08 420.00,496.34 420.50,495.61 421.00,494.88 421.50,494.16 422.00,493.45 422.50,492.74 423.00,492.04 423.50,491.35 424.00,490.66 424.50,489.98 425.00,489.30 425.50,488.64 426.00,487.98 426.50,487.33 427.00,486.68 427.50,486.04 428.00,485.41 428.50,484.78 429.00,484.17 429.50,483.56 430.00,482.95 430.50,482.36 431.00,481.77 431.50,481.19 432.00,480.62 432.50,480.05 433.00,479.49 433.50,478.94 434.00,478.39 434.50,477.85 435.00,477.31 435.50,476.78 436.00,476.26 436.50,475.73 437.00,475.22 437.50,474.70 438.00,474.19 438.50,473.68 439.00,473.18 439.50,472.68 440.00,472.18 440.50,471.68 441.00,471.19 441.50,470.70 442.00,470.21 442.50,469.72 443.00,469.23 443.50,468.75 444.00,468.27 444.50,467.79 445.00,467.32 445.50,466.85 446.00,466.38 446.50,465.92 447.00,465.46 447.50,465.01 448.00,464.56 448.50,464.11 449.00,463.67 449.50,463.24 450.00,462.81 450.50,462.39 451.00,461.97 451.50,461.56 452.00,461.16 452.50,460.76 453.00,460.37 453.50,459.98 454.00,459.60 454.50,459.23 455.00,458.86 455.50,458.50 456.00,458.14 456.50,457.79 457.00,457.45 457.50,457.11 458.00,456.78 458.50,456.46 459.00,456.14 459.50,455.83 460.00,455.52 460.50,455.22 461.00,454.92 461.50,454.64 462.00,454.35 462.50,454.07 463.00,453.80 463.50,453.54 464.00,453.27 464.50,453.02 465.00,452.77 465.50,452.52 466.00,452.29 466.50,452.05 467.00,451.82 467.50,451.60 468.00,451.38 468.50,451.17 469.00,450.97 469.50,450.77 470.00,450.57 470.50,450.38 471.00,450.19 471.50,450.01 472.00,449.84 472.50,449.67 473.00,449.50 473.50,449.35 474.00,449.19 474.50,449.04 475.00,448.90 475.50,448.77 476.00,448.63 476.50,448.51 477.00,448.39 477.50,448.28 478.00,448.17 478.50,448.06 479.00,447.97 479.50,447.88 480.00,447.79 480.50,447.71 481.00,447.64 481.50,447.58 482.00,447.52 482.50,447.46 483.00,447.42 483.50,447.37 484.00,447.34 484.50,447.31 485.00,447.29 485.50,447.28 486.00,447.27 486.50,447.27 487.00,447.28 487.50,447.29 488.00,447.31 488.50,447.34 489.00,447.37 489.50,447.41 490.00,447.46 490.50,447.51 491.00,447.57 491.50,447.63 492.00,447.71 492.50,447.78 493.00,447.87 493.50,447.96 494.00,448.06 494.50,448.16 495.00,448.27 495.50,448.39 496.00,448.51 496.50,448.64 497.00,448.77 497.50,448.91 498.00,449.06 498.50,449.21 499.00,449.37 499.50,449.53 500.00,449.70 500.50,449.87 501.00,450.05 501.50,450.24 502.00,450.43 502.50,450.63 503.00,450.83 503.50,451.04 504.00,451.26 504.50,451.48 505.00,451.71 505.50,451.94 506.00,452.18 506.50,452.42 507.00,452.68 507.50,452.93 508.00,453.20 508.50,453.47 509.00,453.75 509.50,454.03 510.00,454.32 510.50,454.62 511.00,454.92 511.50,455.23 512.00,455.55 512.50,455.87 513.00,456.20 513.50,456.54 514.00,456.88 514.50,457.23 515.00,457.58 515.50,457.95 516.00,458.32 516.50,458.69 517.00,459.07 517.50,459.46 518.00,459.85 518.50,460.25 519.00,460.66 519.50,461.07 520.00,461.49 520.50,461.91 521.00,462.34 521.50,462.77 522.00,463.21 522.50,463.66 523.00,464.11 523.50,464.56 524.00,465.02 524.50,465.49 525.00,465.95 525.50,466.43 526.00,466.91 526.50,467.39 527.00,467.88 527.50,468.37 528.00,468.87 528.50,469.37 529.00,469.87 529.50,470.38 530.00,470.89 530.50,471.41 531.00,471.93 531.50,472.46 532.00,472.99 532.50,473.53 533.00,474.07 533.50,474.61 534.00,475.17 534.50,475.73 535.00,476.29 535.50,476.86 536.00,477.44 536.50,478.02 537.00,478.61 537.50,479.20 538.00,479.80 538.50,480.41 539.00,481.02 539.50,481.63 540.00,482.26 540.50,482.88 541.00,483.52 541.50,484.15 542.00,484.80 542.50,485.45 543.00,486.10 543.50,486.76 544.00,487.42 544.50,488.09 545.00,488.76 545.50,489.44 546.00,490.11 546.50,490.80 547.00,491.49 547.50,492.18 548.00,492.87 548.50,493.57 549.00,494.27 549.50,494.97 550.00,495.68 550.50,496.39 551.00,497.10 551.50,497.82 552.00,498.54 552.50,499.26 553.00,499.98 553.50,500.70 554.00,501.43 554.50,502.16 555.00,502.88 555.50,503.62 556.00,504.35 556.50,505.09 557.00,505.82 557.50,506.56 558.00,507.30 558.50,508.05 559.00,508.79 559.50,509.54 560.00,510.29 560.50,511.04 561.00,511.80 561.50,512.55 562.00,513.32 562.50,514.08 563.00,514.85 563.50,515.63 564.00,516.41 564.50,517.20 565.00,517.99 565.50,518.79 566.00,519.60 566.50,520.41 567.00,521.23 567.50,522.05 568.00,522.87 568.50,523.70 569.00,524.54 569.50,525.37 570.00,526.21 570.50,527.05 571.00,527.90 571.50,528.74 572.00,529.59 572.50,530.43 573.00,531.28 573.50,532.12 574.00,532.97 574.50,533.81 575.00,534.65 575.50,535.49 576.00,536.33 576.50,537.17 577.00,538.00 577.50,538.83 578.00,539.67 578.50,540.50 579.00,541.33 579.50,542.15 580.00,542.98 580.50,543.81 581.00,544.64 581.50,545.47 582.00,546.29 582.50,547.12 583.00,547.95 583.50,548.78 584.00,549.62 584.50,550.45 585.00,551.29 585.50,552.13 586.00,552.98 586.50,553.83 587.00,554.69 587.50,555.55 588.00,556.41 588.50,557.28 589.00,558.16 589.50,559.04 590.00,559.93 590.50,560.81 591.00,561.71 591.50,562.60 592.00,563.51 592.50,564.41 593.00,565.32 593.50,566.23 594.00,567.14 594.50,568.06 595.00,568.98 595.50,569.90 596.00,570.83 596.50,571.76 597.00,572.69 597.50,573.62 598.00,574.55 598.50,575.49 599.00,576.43 599.50,577.37 600.00,578.31 600.50,579.25 601.00,580.19 601.50,581.13 601.69,581.50 602.00,580.93 602.50,580.01 603.00,579.08 603.50,578.15 604.00,577.23 604.50,576.30 605.00,575.38 605.50,574.46 606.00,573.53 606.50,572.61 607.00,571.69 607.50,570.78 608.00,569.86 608.50,568.95 609.00,568.03 609.50,567.12 610.00,566.22 610.50,565.31 611.00,564.41 611.50,563.51 612.00,562.61 612.50,561.72 613.00,560.82 613.50,559.93 614.00,559.05 614.50,558.17 615.00,557.29 615.50,556.41 616.00,555.54 616.50,554.67 617.00,553.80 617.50,552.94 618.00,552.08 618.50,551.23 619.00,550.38 619.50,549.53 620.00,548.69 620.50,547.85 621.00,547.01 621.50,546.18 622.00,545.36 622.50,544.53 623.00,543.71 623.50,542.90 624.00,542.09 624.50,541.28 625.00,540.47 625.50,539.67 626.00,538.88 626.50,538.09 627.00,537.30 627.50,536.51 628.00,535.73 628.50,534.96 629.00,534.18 629.50,533.42 630.00,532.65 630.50,531.89 631.00,531.13 631.50,530.38 632.00,529.63 632.50,528.88 633.00,528.14 633.50,527.40 634.00,526.66 634.50,525.93 635.00,525.20 635.50,524.47 636.00,523.75 636.50,523.03 637.00,522.31 637.50,521.60 638.00,520.89 638.50,520.19 639.00,519.48 639.50,518.79 640.00,518.09 640.50,517.40 641.00,516.71 641.50,516.02 642.00,515.34 642.50,514.66 643.00,513.99 643.50,513.32 644.00,512.65 644.50,511.99 645.00,511.33 645.50,510.67 646.00,510.02 646.50,509.37 647.00,508.72 647.50,508.08 648.00,507.45 648.50,506.81 649.00,506.19 649.50,505.56 650.00,504.94 650.50,504.33 651.00,503.72 651.50,503.12 652.00,502.52 652.50,501.93 653.00,501.34 653.50,500.76 654.00,500.18 654.50,499.61 655.00,499.04 655.50,498.49 656.00,497.93 656.50,497.39 657.00,496.85 657.50,496.32 658.00,495.80 658.50,495.28 659.00,494.77 659.50,494.27 660.00,493.78 660.50,493.30 661.00,492.82 661.50,492.35 662.00,491.89 662.50,491.45 663.00,491.01 663.50,490.58 664.00,490.15 664.50,489.74 665.00,489.34 665.50,488.95 666.00,488.57 666.50,488.21 667.00,487.85 667.50,487.50 668.00,487.17 668.50,486.84 669.00,486.53 669.50,486.23 670.00,485.94 670.50,485.67 671.00,485.40 671.50,485.15 672.00,484.91 672.50,484.69 673.00,484.47 673.50,484.27 674.00,484.09 674.50,483.92 675.00,483.76 675.50,483.61 676.00,483.48 676.50,483.36 677.00,483.25 677.50,483.16 678.00,483.09 678.50,483.02 679.00,482.97 679.50,482.94 680.00,482.92 680.50,482.91" fill="none" stroke="#000000" stroke-width="4" stroke-linejoin="bevel"/>
<g fill="#000" shape-rendering="crispEdges">
<rect x="59" y="3" width="2" height="579"/>
<rect x="59" y="580" width="622" height="2"/>
<rect x="60" y="582" width="1" height="7"/>
<rect x="122" y="582" width="1" height="3"/>
<rect x="184" y="582" width="1" height="7"/>
<rect x="246" y="582" width="1" height="3"/>
<rect x="308" y="582" width="1" height="7"/>
<rect x="370" y="582" width="1" height="3"/>
<rect x="432" y="582" width="1" height="7"/>
<rect x="494" y="582" width="1" height="3"/>
<rect x="556" y="582" width="1" height="7"/>
<rect x="618" y="582" width="1" height="3"/>
<rect x="680" y="582" width="1" height="7"/>
</g>
<g fill="#000">
<rect x="52" y="581.0" width="7" height="1"/>
<rect x="56" y="549.0" width="3" height="1"/>
<rect x="52" y="516.0" width="7" height="1"/>
<rect x="56" y="484.5" width="3" height="1"/>
<rect x="52" y="453.0" width="7" height="1"/>
<rect x="56" y="421.0" width="3" height="1"/>
<rect x="52" y="389.0" width="7" height="1"/>
<rect x="56" y="357.5" width="3" height="1"/>
<rect x="52" y="326.0" width="7" height="1"/>
<rect x="56" y="294.0" width="3" height="1"/>
<rect x="52" y="262.0" width="7" height="1"/>
<rect x="56" y="230.0" width="3" height="1"/>
<rect x="52" y="198.5" width="7" height="1"/>
<rect x="56" y="167.0" width="3" height="1"/>
<rect x="52" y="135.0" width="7" height="1"/>
<rect x="56" y="103.0" width="3" height="1"/>
<rect x="52" y="71.5" width="7" height="1"/>
<rect x="56" y="40.0" width="3" height="1"/>
<rect x="52" y="8.0" width="7" height="1"/>
</g>
<g class="lab" fill="#000" style="filter:grayscale(1)">
<text x="47.2" y="590.90" text-anchor="end">0</text>
<text x="47.2" y="527.23" text-anchor="end">0.02</text>
<text x="47.2" y="463.57" text-anchor="end">0.04</text>
<text x="47.2" y="399.90" text-anchor="end">0.06</text>
<text x="47.2" y="336.23" text-anchor="end">0.08</text>
<text x="47.2" y="272.57" text-anchor="end">0.10</text>
<text x="47.2" y="208.90" text-anchor="end">0.12</text>
<text x="47.2" y="145.23" text-anchor="end">0.14</text>
<text x="47.2" y="81.57" text-anchor="end">0.16</text>
<text x="47.2" y="19.80" text-anchor="end">0.18</text>
<text x="54.20" y="616.2">0</text>
<text x="165.90" y="616.2">0.2</text>
<text x="289.80" y="616.2">0.4</text>
<text x="414.20" y="616.2">0.6</text>
<text x="538.80" y="616.2">0.8</text>
<text x="674.95" y="616.2">1</text>
</g>
<text x="370.5" y="644.6" text-anchor="middle" font-style="italic" font-size="24" fill="#000" style="filter:grayscale(1)">x</text>
<g fill="#000">
<rect x="104" y="660" width="455" height="37" fill="none" stroke="#000" stroke-width="2"/>
<rect x="110" y="675" width="20" height="5" fill="#0000ff"/>
<rect x="138" y="675" width="4" height="5" fill="#0000ff"/>
<rect x="151" y="675" width="19" height="5" fill="#0000ff"/>
<text x="182" y="688.7" style="filter:grayscale(1)"><tspan font-style="italic" font-size="28.5">E</tspan><tspan class="lg" font-style="italic">2</tspan><tspan class="lg" font-style="italic" dx="-1.5">0</tspan><tspan class="lg" dx="0.5">, </tspan><tspan class="lg" dx="1">1</tspan></text>
<rect x="256.4" y="675" width="28.6" height="5" fill="#ff0000"/>
<rect x="293" y="675" width="27" height="5" fill="#ff0000"/>
<text x="328.8" y="688.7" style="filter:grayscale(1)"><tspan font-style="italic" font-size="28.5">E</tspan><tspan class="lg" dx="-1.5">50, </tspan><tspan class="lg" dx="1">1</tspan></text>
<rect x="404" y="675" width="62.2" height="5" fill="#000"/>
<text x="474.3" y="688.7" style="filter:grayscale(1)"><tspan font-style="italic" font-size="28.5">E</tspan><tspan class="lg">100, 1</tspan></text>
</g>
</svg>
</body></html>
